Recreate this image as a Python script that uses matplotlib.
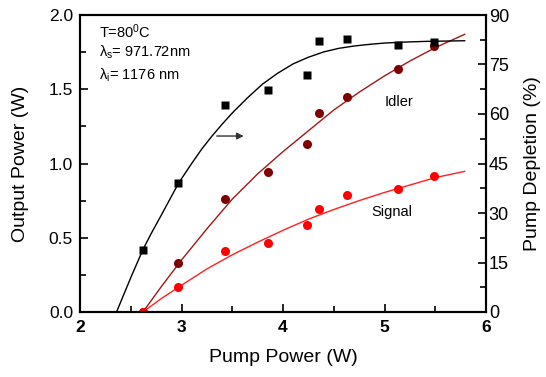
import numpy as np
import matplotlib
matplotlib.use("Agg")
import matplotlib.pyplot as plt
from matplotlib.ticker import MultipleLocator

plt.rcParams['font.family'] = ['Liberation Sans', 'DejaVu Sans']
plt.rcParams['mathtext.default'] = 'regular'

# measured points
pump = [2.62, 2.97, 3.43, 3.85, 4.24, 4.35, 4.63, 5.13, 5.49]
idler = [0.0, 0.332, 0.763, 0.94, 1.129, 1.338, 1.45, 1.636, 1.791]
signal = [0.0, 0.168, 0.413, 0.467, 0.586, 0.691, 0.79, 0.83, 0.914]
depletion = [18.9, 39.0, 62.7, 67.2, 71.7, 82.1, 82.6, 80.9, 81.9]

# fitted curves
fit_x_dep = [2.36, 2.5, 2.62, 2.7, 2.8, 2.9, 2.97, 3.1, 3.2, 3.3, 3.4, 3.5, 3.65, 3.8,
             3.95, 4.1, 4.25, 4.4, 4.55, 4.7, 4.85, 5.0, 5.2, 5.4, 5.6, 5.79]
fit_dep = [0, 10.4, 18.9, 23.7, 29.3, 35.0, 39.0, 45.0, 49.4, 53.3, 56.9, 60.3, 64.9, 69.1,
           72.4, 75.2, 77.2, 78.8, 79.9, 80.6, 81.1, 81.5, 81.8, 82.0, 82.1, 82.2]
fit_x = [2.62, 2.8, 3.0, 3.25, 3.5, 3.75, 4.0, 4.25, 4.5, 4.75, 5.0, 5.25, 5.5, 5.79]
fit_idler = [0, 0.17, 0.35, 0.56, 0.76, 0.93, 1.08, 1.22, 1.36, 1.48, 1.59, 1.69, 1.78, 1.87]
fit_signal = [0, 0.09, 0.18, 0.29, 0.385, 0.47, 0.55, 0.625, 0.69, 0.75, 0.805, 0.855, 0.905, 0.947]

fig = plt.figure(figsize=(5.46, 3.77), dpi=100)
ax = fig.add_axes([80/546, 65/377, 406/546, 297/377])
ax2 = ax.twinx()

ax.plot(fit_x, fit_idler, color='#a01818', lw=1)
ax.plot(fit_x, fit_signal, color='#ff2020', lw=1)
ax.plot(pump, idler, 'o', color='#800000', ms=6.5, mec='none')
ax.plot(pump, signal, 'o', color='#ff0000', ms=6.5, mec='none')

ax2.plot(fit_x_dep, fit_dep, color='black', lw=1)
ax2.plot(pump, depletion, 's', color='black', ms=6, mec='none')

ax.set_xlim(2, 6)
ax.set_ylim(0, 2.0)
ax2.set_ylim(0, 90)

ax.xaxis.set_major_locator(MultipleLocator(1))
ax.xaxis.set_minor_locator(MultipleLocator(0.5))
ax.yaxis.set_major_locator(MultipleLocator(0.5))
ax.yaxis.set_minor_locator(MultipleLocator(0.25))
ax.yaxis.set_major_formatter(matplotlib.ticker.FormatStrFormatter('%.1f'))
ax2.yaxis.set_major_locator(MultipleLocator(15))
ax2.yaxis.set_minor_locator(MultipleLocator(7.5))

ax.tick_params(axis='both', which='both', direction='in', top=False)
ax.tick_params(axis='both', which='major', length=6, width=1.2)
ax.tick_params(axis='both', which='minor', length=4, width=1.2)
ax.tick_params(axis='y', labelsize=12.5, pad=5)
ax.tick_params(axis='x', labelsize=12.5, pad=6)
for lab in ax.get_xticklabels():
    lab.set_fontweight('bold')
ax2.tick_params(axis='y', which='both', direction='in', width=1.2, labelsize=13, pad=2)
ax2.tick_params(axis='y', which='major', length=6)
ax2.tick_params(axis='y', which='minor', length=4)

for sp in ax.spines.values():
    sp.set_linewidth(1.5)
for sp in ax2.spines.values():
    sp.set_linewidth(1.5)

ax.set_xlabel('Pump Power (W)', fontsize=14, labelpad=10)
ax.set_ylabel('Output Power (W)', fontsize=14, labelpad=14)
ax2.set_ylabel('Pump Depletion (%)', fontsize=14, labelpad=11)

ax.text(2.187, 1.845, 'T=80$^0$C', fontsize=10.5)
ax.text(2.187, 1.717, 'λ$_s$= 971.72nm', fontsize=10.5)
ax.text(2.187, 1.562, 'λ$_i$= 1176 nm', fontsize=10.5)
ax.text(5.14, 1.416, 'Idler', fontsize=10.5, ha='center', va='center')
ax.text(5.07, 0.675, 'Signal', fontsize=10.5, ha='center', va='center')

ax.annotate('', xy=(3.64, 1.185), xytext=(3.32, 1.185),
            arrowprops=dict(arrowstyle='-|>', color='#333333', lw=1, mutation_scale=10))

fig.savefig('out.png', dpi=100)
